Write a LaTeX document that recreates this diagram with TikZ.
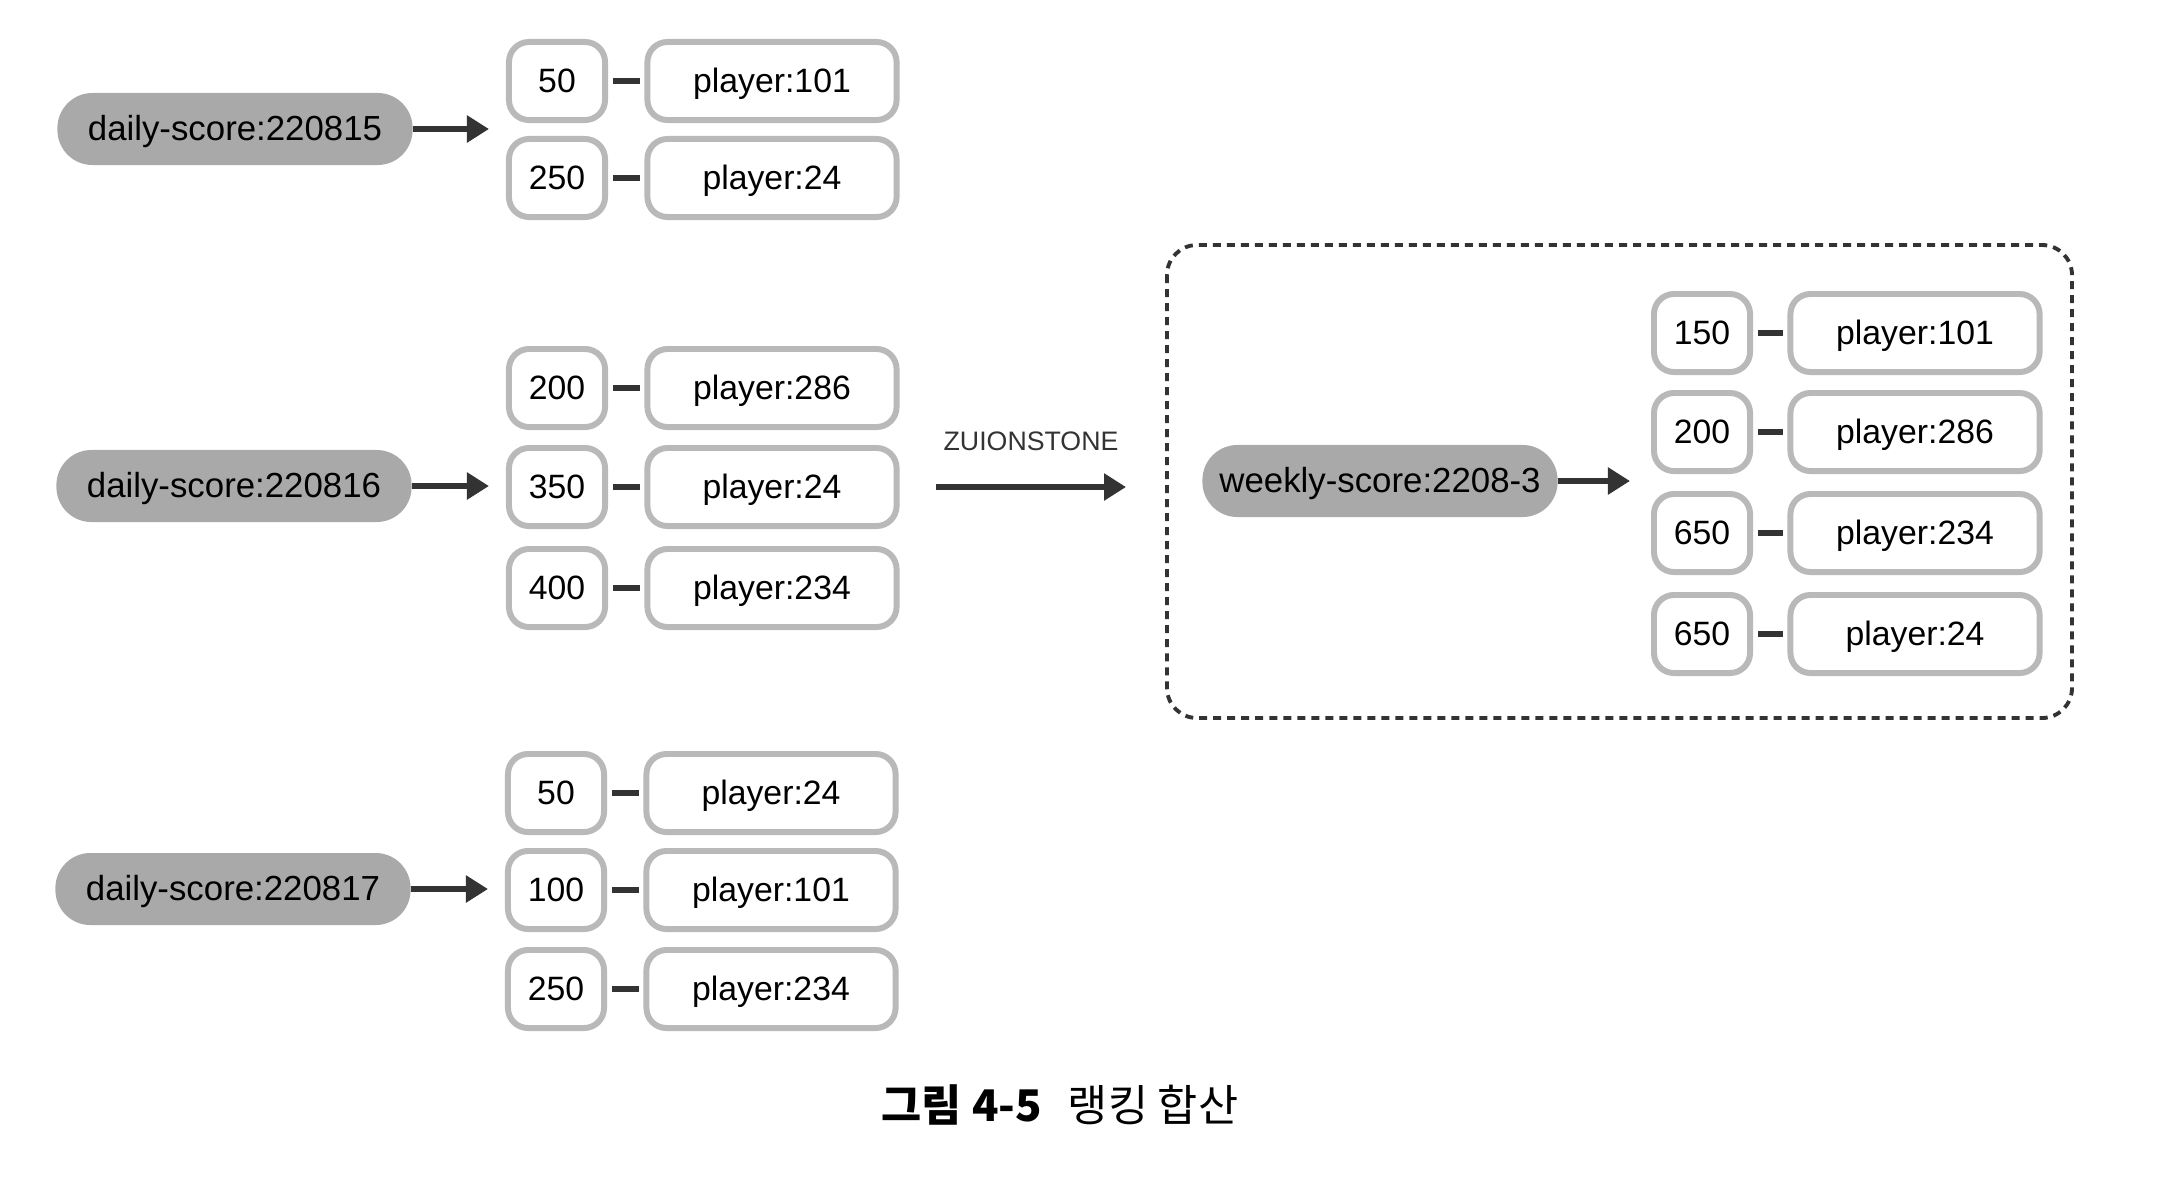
\documentclass[tikz,border=0pt]{standalone}
\usepackage{fontspec}
\setmainfont{Liberation Sans}
\newfontfamily\kr{Noto Sans CJK KR}
\usepackage{tikz}
\usetikzlibrary{arrows.meta, positioning}
\definecolor{pillgray}{HTML}{A9A9A9}
\definecolor{boxgray}{HTML}{B9B9B9}
\definecolor{ink}{HTML}{333333}

\begin{document}
\begin{tikzpicture}[x=0.01cm, y=-0.01cm, font=\fontsize{9.6}{11}\selectfont,
    key/.style={fill=pillgray, rounded corners=3.5mm, minimum width=3.55cm, minimum height=0.72cm, inner sep=0pt,
        font=\fontsize{9.9}{11}\selectfont, text height=0.72em, text depth=0.05em},
    score/.style={draw=boxgray, fill=white, line width=1.7pt, rounded corners=2mm, minimum width=0.96cm, minimum height=0.78cm, inner sep=0pt,
        text height=0.72em, text depth=0.05em},
    player/.style={score, minimum width=2.49cm},
    link/.style={ink, line width=1.6pt, shorten <=0.05cm, shorten >=0.04cm},
    flow/.style={ink, line width=1.7pt, -{Triangle[length=0.22cm, width=0.26cm]}},
    frame/.style={ink, line width=1.1pt, dash pattern=on 0.8mm off 0.6mm, rounded corners=0.3cm}]
    \useasboundingbox (0,0) rectangle (2158,1178);
    % 일별 점수
    \node[key] (d1) at (235,129) {daily-score:220815};
    \foreach \y/\s/\p [count=\i] in {81/50/101, 178/250/24}{
        \node[score] (s1-\i) at (557,\y) {\s};
        \node[player] (p1-\i) at (772,\y) {player:\p};
        \draw[link] (s1-\i) -- (p1-\i);
    }
    \draw[flow] (d1) -- (d1 -| s1-1.west) [shorten >=0.17cm];
    \node[key] (d2) at (234,486) {daily-score:220816};
    \foreach \y/\s/\p [count=\i] in {388/200/286, 487/350/24, 588/400/234}{
        \node[score] (s2-\i) at (557,\y) {\s};
        \node[player] (p2-\i) at (772,\y) {player:\p};
        \draw[link] (s2-\i) -- (p2-\i);
    }
    \draw[flow] (d2) -- (d2 -| s2-1.west) [shorten >=0.17cm];
    \node[key] (d3) at (233,889) {daily-score:220817};
    \foreach \y/\s/\p [count=\i] in {793/50/24, 890/100/101, 989/250/234}{
        \node[score] (s3-\i) at (556,\y) {\s};
        \node[player] (p3-\i) at (771,\y) {player:\p};
        \draw[link] (s3-\i) -- (p3-\i);
    }
    \draw[flow] (d3) -- (d3 -| s3-1.west) [shorten >=0.17cm];
    % 합산
    \coordinate (zs) at (936,487);
    \coordinate (ze) at (1126,487);
    \draw[flow] (zs) -- (ze) node[midway, above=0.22cm, font=\fontsize{7.6}{9}\selectfont] (zlabel) {ZUIONSTONE};
    % 주간 점수
    \draw[frame] (1167,245) rectangle (2072,718);
    \node[key] (w) at (1380,481) {weekly-score:2208-3};
    \foreach \y/\s/\p [count=\i] in {333/150/101, 432/200/286, 533/650/234, 634/650/24}{
        \node[score] (ws-\i) at (1702,\y) {\s};
        \node[player] (wp-\i) at (1915,\y) {player:\p};
        \draw[link] (ws-\i) -- (wp-\i);
    }
    \draw[flow] (w) -- (w -| ws-1.west) [shorten >=0.21cm];
    % 캡션
    \node[font=\kr\fontsize{12.4}{14}\selectfont] (cap) at (1060,1105) {\bfseries 그림 4-5\hspace{0.6em}\mdseries 랭킹 합산};
\end{tikzpicture}
\end{document}
